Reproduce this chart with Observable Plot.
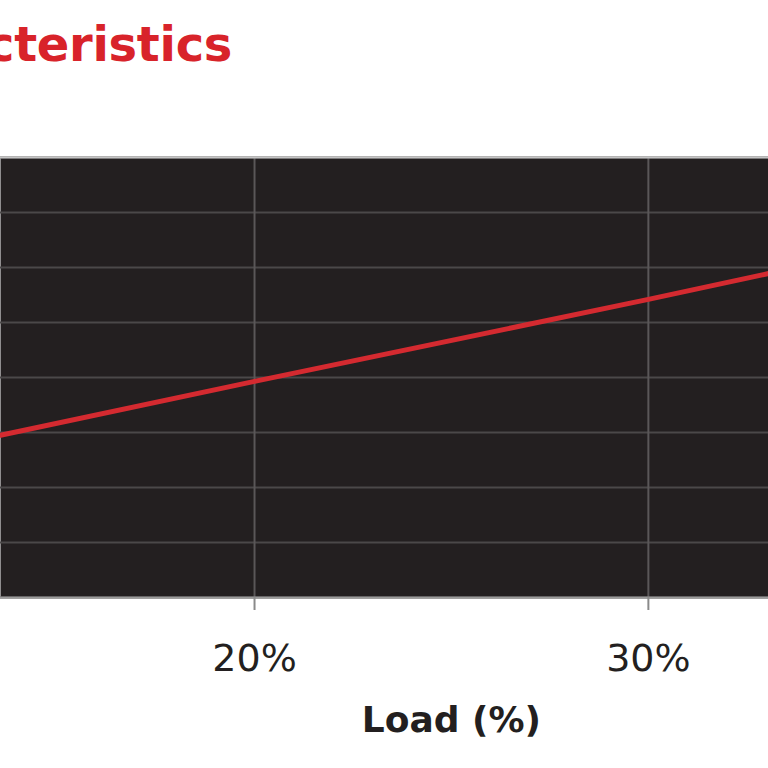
<!DOCTYPE html>
<html>
<head>
<meta charset="utf-8">
<script src="https://cdn.jsdelivr.net/npm/d3@7"></script>
<script src="https://cdn.jsdelivr.net/npm/@observablehq/plot@0.6"></script>
<style>
  html, body { margin: 0; padding: 0; background: #ffffff; overflow: hidden; }
  #title { position: relative; height: 80px; overflow: hidden; }
  #title span {
    position: absolute; left: -14px; top: 20px; line-height: 48px;
    font-family: "DejaVu Sans", Verdana, sans-serif; font-weight: bold;
    font-size: 48px; letter-spacing: -0.3px; color: #d8232a; white-space: nowrap;
  }
</style>
</head>
<body>
<div id="title"><span id="titleText"></span></div>
<div id="chart"></div>
<script>
const titleText = "cteristics";
const xLabel = "Load (%)";
const xTicks = [20, 30];
const yGrid = [0, 1, 2, 3, 4, 5, 6, 7, 8];
const loadPct = [13.55, 20, 30, 33.05];
const values  = [2.95, 3.93, 5.42, 5.89];

document.getElementById("titleText").textContent = titleText;

const data = loadPct.map((x, i) => ({x, y: values[i]}));

const chart = Plot.plot({
  width: 768,
  height: 688,
  marginTop: 77,
  marginBottom: 171,
  marginLeft: 0,
  marginRight: 0,
  style: {background: "transparent", fontFamily: "'DejaVu Sans', Verdana, sans-serif", color: "#231f20"},
  x: {domain: [13.55, 33.05]},
  y: {domain: [0, 8], axis: null},
  marks: [
    Plot.frame({fill: "#231f20", stroke: null}),
    Plot.ruleY(yGrid, {stroke: "#4b4849", strokeWidth: 2}),
    Plot.ruleX(xTicks, {stroke: "#5a5758", strokeWidth: 2}),
    Plot.line(data, {x: "x", y: "y", stroke: "#d42a30", strokeWidth: 5, clip: true}),
    Plot.ruleY([8], {stroke: "#c4c4c4", strokeWidth: 2}),
    Plot.ruleY([0], {stroke: "#9a9a9a", strokeWidth: 2}),
    Plot.axisX(xTicks, {
      tickFormat: d => d + "%", tickSize: 13, tickPadding: 34,
      stroke: "#8a8a8a", strokeWidth: 2, fontSize: 38, fill: "#231f20", label: null
    }),
    Plot.text([xLabel], {
      x: () => 25, frameAnchor: "bottom", dy: 134, text: d => d,
      fontSize: 36, fontWeight: "bold", fill: "#231f20", lineAnchor: "bottom"
    })
  ]
});
document.getElementById("chart").appendChild(chart);
</script>
</body>
</html>
